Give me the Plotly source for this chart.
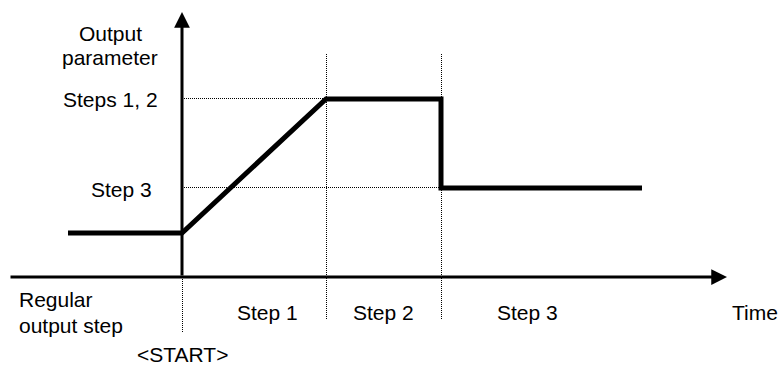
import plotly.graph_objects as go

# time axis (1 unit = 10 px), output axis (1 unit = 10 px)
t_start = 0.0
t_step_ends = [14.4, 25.9]          # end of step 1, end of step 2
t_line = [-11.4, 0.0, 14.4, 25.9, 25.9, 46.0]
out_line = [4.4, 4.4, 17.8, 17.8, 8.9, 8.9]

level_values = [17.8, 8.9]
level_labels = ["Steps 1, 2", "Step 3"]
step_labels = ["Step 1", "Step 2", "Step 3"]
step_label_t = [8.5, 20.1, 34.5]

FONT = dict(family="Liberation Sans, Arial, sans-serif", size=21, color="black")
DOT = dict(color="black", width=1, dash="1px,1px")
HP = 0.05  # half a pixel, keeps 1px dotted lines crisp

fig = go.Figure()

# dotted guide lines
for t in t_step_ends:
    fig.add_trace(go.Scatter(x=[t + HP, t + HP], y=[22.3, -4.3], mode="lines", line=DOT))
fig.add_trace(go.Scatter(x=[t_start + HP, t_start + HP], y=[0, -5.6], mode="lines", line=DOT))
fig.add_trace(go.Scatter(x=[t_start, t_step_ends[0]], y=[level_values[0] + HP] * 2,
                         mode="lines", line=DOT))
fig.add_trace(go.Scatter(x=[t_start, t_step_ends[1]], y=[level_values[1] + HP] * 2,
                         mode="lines", line=DOT))

# output parameter profile
fig.add_trace(go.Scatter(x=t_line, y=out_line, mode="lines",
                         line=dict(color="black", width=5)))

# axes with arrows
fig.add_annotation(x=54.5, y=0, ax=-17.3, ay=0, xref="x", yref="y", axref="x", ayref="y",
                   text="", showarrow=True, arrowhead=2, arrowsize=1.05, arrowwidth=3,
                   arrowcolor="black")
fig.add_annotation(x=0, y=26.5, ax=0, ay=0, xref="x", yref="y", axref="x", ayref="y",
                   text="", showarrow=True, arrowhead=2, arrowsize=1.05, arrowwidth=3,
                   arrowcolor="black")

# labels
def label(txt, x, y, xanchor="center"):
    fig.add_annotation(x=x, y=y, text=txt, showarrow=False, font=FONT,
                       xanchor=xanchor, yanchor="middle")

label("Output", -7.2, 24.4)
label("parameter", -7.2, 22.0)
label(level_labels[0], -7.2, 17.75)
label(level_labels[1], -2.8, 8.8, xanchor="right")
label("Regular", -16.5, -2.2, xanchor="left")
label("output step", -16.5, -4.8, xanchor="left")
for txt, t in zip(step_labels, step_label_t):
    label(txt, t, -3.5)
label("Time", 57.3, -3.5)
label("&lt;START&gt;", t_start, -7.7)

fig.update_layout(
    width=779, height=365,
    margin=dict(l=0, r=0, t=0, b=0),
    plot_bgcolor="white", paper_bgcolor="white",
    showlegend=False,
    xaxis=dict(range=[-18.2, 59.7], visible=False, fixedrange=True),
    yaxis=dict(range=[-8.8, 27.7], visible=False, fixedrange=True),
)

fig.write_html("out.html", config={"displayModeBar": False},
               post_script="document.body.style.margin='0';document.body.style.overflow='hidden';")
